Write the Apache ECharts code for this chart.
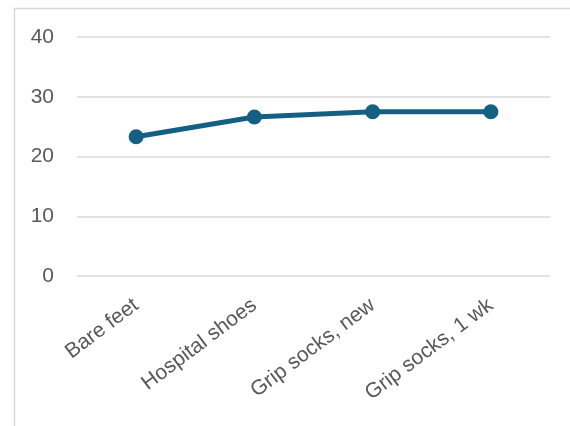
<!DOCTYPE html>
<html>
<head>
<meta charset="utf-8">
<script src="https://cdn.jsdelivr.net/npm/echarts@6/dist/echarts.min.js"></script>
<style>html,body{margin:0;padding:0;background:#fff}#c{width:570px;height:426px}</style>
</head>
<body>
<div id="c"></div>
<script>
const categories = ['Bare feet', 'Hospital shoes', 'Grip socks, new', 'Grip socks, 1 wk'];
const values = [23.3, 26.6, 27.5, 27.5];
const yTicks = [0, 10, 20, 30, 40];

const chart = echarts.init(document.getElementById('c'), null, {renderer: 'canvas'});
const font = '"Liberation Sans", Arial, sans-serif';
chart.setOption({
  animation: false,
  backgroundColor: '#fff',
  graphic: [{
    type: 'rect',
    shape: {x: 14.5, y: 8.5, width: 600, height: 500},
    style: {fill: 'none', stroke: '#d9d9d9', lineWidth: 1.5},
    silent: true
  }],
  grid: {left: 77, right: 20, top: 37, bottom: 150, containLabel: false},
  xAxis: {
    type: 'category',
    data: categories,
    boundaryGap: true,
    axisLine: {show: false},
    axisTick: {show: false},
    axisLabel: {
      rotate: 37, fontSize: 21, color: '#595959', fontFamily: font, margin: 27, interval: 0
    }
  },
  yAxis: {
    type: 'value',
    min: yTicks[0], max: yTicks[yTicks.length - 1], interval: 10,
    axisLine: {show: false},
    axisTick: {show: false},
    axisLabel: {fontSize: 21, color: '#595959', fontFamily: font, margin: 23},
    splitLine: {lineStyle: {color: '#d9d9d9', width: 1.5}}
  },
  series: [{
    type: 'line',
    data: values,
    symbol: 'circle',
    symbolSize: 15,
    lineStyle: {color: '#156082', width: 5},
    itemStyle: {color: '#156082'}
  }]
});
</script>
</body>
</html>
